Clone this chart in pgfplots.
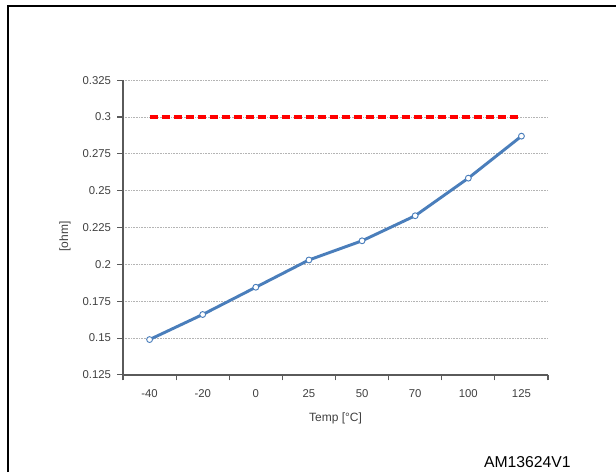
\documentclass[border=0pt]{standalone}
\usepackage{fontspec}
\setmainfont{Liberation Sans}
\usepackage{pgfplots}
\pgfplotsset{compat=1.18}
\definecolor{serblue}{HTML}{4A7EBB}
\definecolor{axgray}{HTML}{5A5A5A}
\definecolor{gridgray}{HTML}{B4B4B4}
\definecolor{txtgray}{HTML}{404040}
\begin{document}
\begin{tikzpicture}
\useasboundingbox (0,0) rectangle (462pt,354pt);
\draw[line width=1.2pt] (6pt,0) -- (6pt,349.5pt) -- (462pt,349.5pt);
\begin{axis}[
  at={(92.25pt,72.8pt)}, anchor=south west,
  scale only axis, width=318.75pt, height=221.1pt,
  xmin=-0.5, xmax=7.5, ymin=0.125, ymax=0.325,
  axis x line=bottom, axis y line=left,
  axis line style={draw=axgray, line width=0.9pt, -},
  xtick={0,...,7},
  xticklabels={-40,-20,0,25,50,70,100,125},
  major x tick style={draw=none},
  minor xtick={-0.5,0.5,...,7.5},
  minor x tick style={draw=axgray, line width=0.8pt},
  minor tick length=4pt,
  ytick={0.125,0.15,0.175,0.2,0.225,0.25,0.275,0.3,0.325},
  yticklabels={0.125,0.15,0.175,0.2,0.225,0.25,0.275,0.3,0.325},
  major y tick style={draw=axgray, line width=0.8pt},
  major tick length=4.5pt,
  tick align=outside,
  ymajorgrids,
  grid style={draw=gridgray, line width=0.6pt, dash pattern=on 0.6pt off 0.6pt},
  tick label style={font=\fontsize{8.5}{10}\selectfont, text=txtgray},
  xticklabel style={yshift=-3pt},
  yticklabel style={xshift=-1pt},
  xlabel={Temp [°C]},
  ylabel={[ohm]},
  label style={font=\fontsize{9}{11}\selectfont, text=txtgray},
  xlabel style={at={(axis description cs:0.5,0)}, anchor=center, yshift=-32.5pt},
  ylabel style={at={(axis description cs:-0.1365,0.47)}, anchor=center},
  clip=false,
]
\addplot[red, line width=2.4pt, dash pattern=on 6pt off 3pt] coordinates {(0,0.3) (7,0.3)};
\addplot[serblue, line width=2.2pt, mark=*, mark size=2.2pt,
  mark options={fill=white, draw=serblue, line width=0.7pt}] coordinates {
  (0,0.149) (1,0.166) (2,0.1845) (3,0.203) (4,0.216) (5,0.233) (6,0.2585) (7,0.287)};
\end{axis}
\node[anchor=base, font=\fontsize{11.8}{14}\selectfont] at (395.5pt,3.5pt) {AM13624V1};
\end{tikzpicture}
\end{document}
